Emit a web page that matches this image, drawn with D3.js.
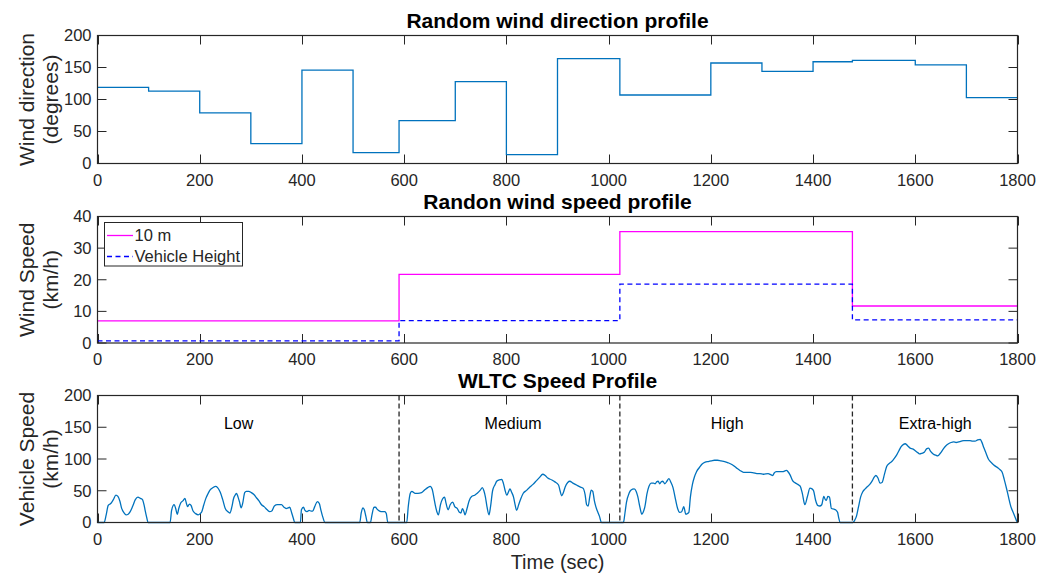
<!DOCTYPE html>
<html>
<head>
<meta charset="utf-8">
<script src="https://cdn.jsdelivr.net/npm/d3@7/dist/d3.min.js"></script>
<style>
  html, body { margin: 0; padding: 0; background: #fff; }
  svg { display: block; font-family: "Liberation Sans", Arial, Helvetica, sans-serif; }
</style>
</head>
<body>
<svg id="chart" width="1051" height="577"></svg>
<script>
// ---- Wind direction (piecewise constant, value holds from each breakpoint) ----
const dirTimes  = [0, 100, 200, 300, 400, 500, 590, 700, 800, 900, 1022, 1200, 1300, 1400, 1477, 1600, 1700, 1800];
const dirValues = [119, 113, 79, 31, 146, 17, 67, 128, 14, 164, 107, 157, 144, 159, 161, 154, 103];

// ---- Wind speed (km/h) per WLTC phase ----
const windTimes   = [0, 590, 1022, 1477, 1800];
const wind10m     = [7.0, 21.7, 35.2, 11.7];
const windVehicle = [0.7, 7.1, 18.6, 7.3];

// ---- WLTC class 3 speed trace (s, km/h) ----
const wltcTime = [0,13,17,21,26,31,36,40,44,47,52,56,60,64,69,74,79,84,88,91,93,96,99,
142,145,150,153,156,159,163,167,171,174,176,180,183,187,192,197,201,204,208,212,216,220,226,231,235,240,245,250,255,259,263,266,270,272,275,278,281,284,288,291,296,301,306,311,316,321,326,332,337,341,346,352,360,365,369,373,376,380,383,386,
397,399,403,406,410,414,418,421,425,430,434,437,441,445,
513,516,519,522,525,528,534,537,541,544,547,552,557,562,565,568,
605,608,612,615,621,627,634,641,646,651,655,658,661,664,667,671,675,679,682,686,690,695,699,704,708,711,714,717,719,723,727,732,738,743,749,753,756,759,762,766,769,773,778,781,786,791,794,797,801,804,807,810,814,817,820,824,828,833,840,846,852,859,865,871,876,881,889,895,902,905,908,911,915,920,924,930,937,944,950,954,957,960,963,966,969,972,975,978,982,986,
1029,1032,1035,1040,1044,1050,1054,1057,1061,1065,1068,1071,1075,1079,1083,1088,1091,1094,1097,1100,1103,1106,1110,1114,1118,1122,1126,1131,1135,1139,1143,1147,1151,1154,1157,1160,1164,1168,1172,1178,1183,1189,1195,1201,1207,1213,1220,1227,1234,1242,1250,1257,1264,1270,1277,1284,1290,1296,1303,1312,1318,1321,1324,1328,1334,1340,1348,1351,1355,1360,1364,1368,1372,1375,1379,1384,1389,1394,1398,1401,1405,1409,1413,1417,1421,1424,1426,1429,1432,1436,1441,1444,1448,1450,1453,
1478,1481,1485,1489,1493,1497,1502,1507,1511,1516,1520,1523,1527,1531,1535,1540,1544,1549,1554,1559,1564,1568,1572,1577,1580,1585,1590,1595,1600,1605,1609,1613,1618,1622,1626,1630,1635,1640,1644,1649,1655,1660,1665,1670,1675,1680,1685,1690,1695,1701,1707,1712,1717,1722,1727,1730,1734,1739,1743,1748,1753,1758,1762,1766,1770,1774,1779,1783,1787,1791,1794,1798,1800];
const wltcSpeed = [0,0,12,27,30,36,43,41,33,23,15,12,13,17,26,36,40,38,36,28,20,9,0,
0,19,28,22,13,22,31,34,38,30,25,29,27,18,14,12,14,17,28,38,45,51,55,57,55,48,36,22,17,15,25,37,44,46,40,32,23,30,47,49,49,47,44,39,34,28,25,20,17,18,26,28,28,24,22,23,24,15,7,0,
0,20,24,19,17,19,18,18,25,33,30,20,8,0,
0,15,23,20,10,0,0,12,24,24,21,18,17,17,14,0,
0,25,46,49,46,46,47,52,55,57,52,40,27,17,12,28,37,40,30,20,28,32,25,22,16,15,22,17,12,22,34,41,43,46,51,55,50,40,25,12,25,50,60,65,67,68,62,52,43,48,53,48,40,28,19,28,37,46,51,56,60,66,71,76,74,70,67,64,59,50,42,46,56,63,65,62,59,56,54,44,28,26,40,51,49,35,25,18,10,0,
0,15,32,46,51,53,49,41,25,13,17,25,45,57,62,62,61,64,65,61,64,65,61,65,69,63,55,36,22,16,17,25,13,14,16,40,60,72,80,87,92,95,96,97,98,98,97,96,94,91,86,82,79,79,79,78,77,77,76,77,75,74,78,80,80,80,82,80,75,66,63,61,59,57,46,28,41,54,53,50,35,27,26,28,41,36,35,41,40,22,21,20,16,8,0,
0,3,10,25,40,48,53,57,60,66,72,74,70,62,63,77,88,93,96,101,107,113,119,123,124,121,117,116,113,110,108,109,111,116,117,112,108,106,105,109,116,121,124,126,127,126,127,128,129,129,129,128,128,130,131,127,118,108,100,95,91,88,86,83,79,68,52,38,25,17,11,3,0];

// ---- Phase boundaries and names ----
const phaseBounds  = [590, 1022, 1477];
const phaseNames   = ["Low", "Medium", "High", "Extra-high"];
const phaseLabelAt = [276, 813, 1232, 1639];

// ---- Axis ticks ----
const timeTicks  = [0, 200, 400, 600, 800, 1000, 1200, 1400, 1600, 1800];
const dirTicks   = [0, 50, 100, 150, 200];
const windTicks  = [0, 10, 20, 30, 40];
const speedTicks = [0, 50, 100, 150, 200];

const AXIS = "#262626";
const BLUE = "#0072BD";
const svg = d3.select("#chart");

const x = d3.scaleLinear().domain([0, 1800]).range([97.5, 1017.5]);

const panels = [
  { top: 35.5,  bottom: 163.5, domain: [0, 200], ticks: dirTicks,   title: "Random wind direction profile", ylab: ["Wind direction", "(degrees)"] },
  { top: 216.5, bottom: 343,   domain: [0, 40],  ticks: windTicks,  title: "Randon wind speed profile",     ylab: ["Wind Speed", "(km/h)"] },
  { top: 395.5, bottom: 522.5, domain: [0, 200], ticks: speedTicks, title: "WLTC Speed Profile",            ylab: ["Vehicle Speed", "(km/h)"] }
];

const TICK = 9;

panels.forEach(p => {
  p.y = d3.scaleLinear().domain(p.domain).range([p.bottom, p.top]);
  const g = svg.append("g");
  p.g = g;

  // inward ticks on all four sides
  const tl = g.append("g").attr("stroke", AXIS).attr("stroke-width", 1);
  timeTicks.forEach(t => {
    const xx = Math.round(x(t)) + 0.5;
    tl.append("line").attr("x1", xx).attr("x2", xx).attr("y1", p.bottom).attr("y2", p.bottom - TICK);
    tl.append("line").attr("x1", xx).attr("x2", xx).attr("y1", p.top).attr("y2", p.top + TICK);
  });
  p.ticks.forEach(v => {
    const yy = p.y(v);
    tl.append("line").attr("x1", x.range()[0]).attr("x2", x.range()[0] + TICK).attr("y1", yy).attr("y2", yy);
    tl.append("line").attr("x1", x.range()[1]).attr("x2", x.range()[1] - TICK).attr("y1", yy).attr("y2", yy);
  });

  // tick labels
  g.append("g").selectAll("text").data(timeTicks).join("text")
    .attr("x", d => x(d)).attr("y", p.bottom + 22)
    .attr("text-anchor", "middle").attr("font-size", 16.5).attr("fill", AXIS)
    .text(d => d);
  g.append("g").selectAll("text").data(p.ticks).join("text")
    .attr("x", x.range()[0] - 6).attr("y", d => p.y(d)).attr("dy", "0.35em")
    .attr("text-anchor", "end").attr("font-size", 16.5).attr("fill", AXIS)
    .text(d => d);

  // title
  g.append("text").attr("x", (x.range()[0] + x.range()[1]) / 2).attr("y", p.top - 8)
    .attr("text-anchor", "middle").attr("font-size", 21).attr("font-weight", "bold").attr("fill", "#000")
    .text(p.title);

  // two-line y label
  const cy = (p.top + p.bottom) / 2;
  p.ylab.forEach((s, i) => {
    g.append("text").attr("transform", `translate(${34 + i * 24},${cy}) rotate(-90)`)
      .attr("text-anchor", "middle").attr("font-size", 21).attr("fill", AXIS)
      .text(s);
  });
});

// ---- Panel 1: wind direction ----
{
  const p = panels[0];
  const pts = dirTimes.map((t, i) => [t, dirValues[Math.min(i, dirValues.length - 1)]]);
  p.g.append("path").datum(pts)
    .attr("fill", "none").attr("stroke", BLUE).attr("stroke-width", 1.3)
    .attr("d", d3.line().x(d => x(d[0])).y(d => p.y(d[1])).curve(d3.curveStepAfter));
}

// ---- Panel 2: wind speed ----
{
  const p = panels[1];
  const step = vals => windTimes.map((t, i) => [t, vals[Math.min(i, vals.length - 1)]]);
  const line = d3.line().x(d => x(d[0])).y(d => p.y(d[1])).curve(d3.curveStepAfter);
  p.g.append("path").datum(step(wind10m))
    .attr("fill", "none").attr("stroke", "#FF00FF").attr("stroke-width", 1.3).attr("d", line);
  p.g.append("path").datum(step(windVehicle))
    .attr("fill", "none").attr("stroke", "#0000FF").attr("stroke-width", 1.3)
    .attr("stroke-dasharray", "5,3.5").attr("d", line);

  // legend
  const lg = p.g.append("g");
  lg.append("rect").attr("x", 104.5).attr("y", 222.5).attr("width", 138).attr("height", 43.5)
    .attr("fill", "#fff").attr("stroke", AXIS).attr("stroke-width", 1);
  const items = [
    { label: "10 m", color: "#FF00FF", dash: null, y: 235.5 },
    { label: "Vehicle Height", color: "#0000FF", dash: "5,3.5", y: 256.5 }
  ];
  items.forEach(it => {
    lg.append("line").attr("x1", 107).attr("x2", 133).attr("y1", it.y).attr("y2", it.y)
      .attr("stroke", it.color).attr("stroke-width", 1.3).attr("stroke-dasharray", it.dash);
    lg.append("text").attr("x", 134.5).attr("y", it.y).attr("dy", "0.35em")
      .attr("font-size", 16.5).attr("fill", AXIS).text(it.label);
  });
}

// ---- Panel 3: WLTC speed ----
{
  const p = panels[2];
  const pts = wltcTime.map((t, i) => [t, wltcSpeed[i]]);
  phaseBounds.forEach(b => {
    p.g.append("line").attr("x1", x(b)).attr("x2", x(b)).attr("y1", p.top).attr("y2", p.bottom)
      .attr("stroke", "#262626").attr("stroke-width", 1.3).attr("stroke-dasharray", "5,3");
  });
  p.g.append("path").datum(pts)
    .attr("fill", "none").attr("stroke", BLUE).attr("stroke-width", 1.3)
    .attr("d", d3.line().x(d => x(d[0])).y(d => p.y(d[1])).curve(d3.curveMonotoneX));
  p.g.append("g").selectAll("text").data(phaseNames).join("text")
    .attr("x", (d, i) => x(phaseLabelAt[i]))
    .attr("y", 423).attr("dy", "0.35em")
    .attr("text-anchor", "middle").attr("font-size", 16).attr("fill", "#000")
    .text(d => d);
}

// frames drawn last so they sit over the data
panels.forEach(p => {
  p.g.append("rect").attr("x", x.range()[0]).attr("y", p.top)
    .attr("width", x.range()[1] - x.range()[0]).attr("height", p.bottom - p.top)
    .attr("fill", "none").attr("stroke", AXIS).attr("stroke-width", 1.2);
});

// shared x-axis label
svg.append("text").attr("x", (x.range()[0] + x.range()[1]) / 2).attr("y", 569)
  .attr("text-anchor", "middle").attr("font-size", 20).attr("fill", AXIS)
  .text("Time (sec)");
</script>
</body>
</html>
